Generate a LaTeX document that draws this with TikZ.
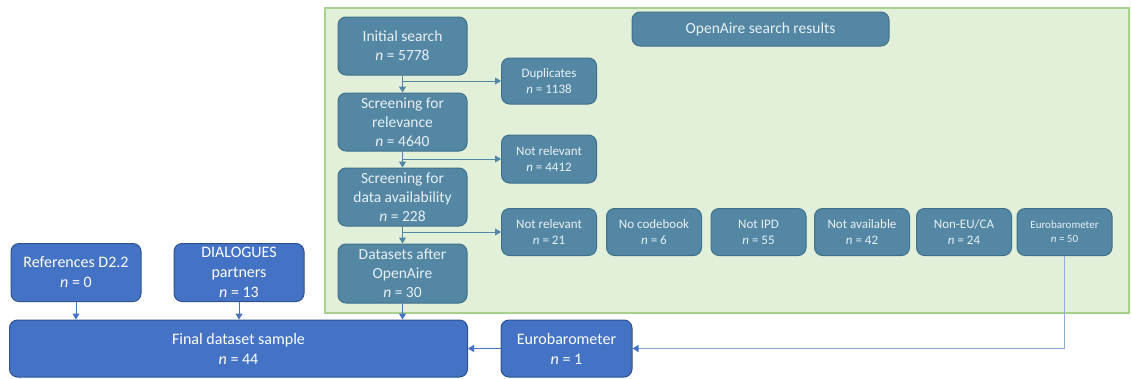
\documentclass[tikz,border=0pt]{standalone}
\usepackage{fontspec}
\setmainfont{Carlito}
\usetikzlibrary{arrows.meta}
\definecolor{tealfill}{RGB}{84,135,163}
\definecolor{tealdraw}{RGB}{65,112,140}
\definecolor{bluefill}{RGB}{68,114,196}
\definecolor{bluedraw}{RGB}{47,82,143}
\definecolor{greenfill}{RGB}{226,240,217}
\definecolor{greendraw}{RGB}{169,209,142}
\definecolor{tealtext}{RGB}{232,240,244}
\definecolor{paleline}{RGB}{143,170,220}
\tikzset{
  box/.style={rounded corners=8pt, line width=1pt, align=center, inner sep=0pt},
  tealbox/.style={box, fill=tealfill, draw=tealdraw, text=tealtext,
    minimum width=129pt, minimum height=58pt, font=\fontsize{15.5}{19}\selectfont},
  smallbox/.style={box, fill=tealfill, draw=tealdraw, text=tealtext,
    minimum width=95pt, minimum height=47pt, font=\fontsize{13}{16}\selectfont},
  bluebox/.style={box, fill=bluefill, draw=bluedraw, text=white,
    minimum width=130pt, minimum height=58pt, font=\fontsize{16}{20}\selectfont},
  flow/.style={line width=1pt, -{Triangle[length=6pt,width=7pt]}},
}
\begin{document}
\begin{tikzpicture}[x=1pt,y=-1pt]
  \useasboundingbox (0,0) rectangle (1131,378);
  % OpenAire area
  \draw[fill=greenfill, draw=greendraw, line width=1.2pt] (325,8) rectangle (1129,313);
  \node[tealbox, minimum width=257pt, minimum height=34pt] (title) at (760.5,29) {OpenAire search results};
  \node[tealbox] (init) at (402.5,46) {Initial search\\\textit{n} = 5778};
  \node[tealbox] (screlev) at (402.5,122) {Screening for\\relevance\\\textit{n} = 4640};
  \node[tealbox] (scravail) at (402.5,197) {Screening for\\data availability\\\textit{n} = 228};
  \node[tealbox, minimum height=59pt] (after) at (402.5,273.5) {Datasets after\\OpenAire\\\textit{n} = 30};
  \node[smallbox, minimum height=46pt] (dup) at (549,81) {Duplicates\\\textit{n} = 1138};
  \node[smallbox, minimum height=48pt] (notrelA) at (549,159) {Not relevant\\\textit{n} = 4412};
  \node[smallbox] (notrelB) at (549,232) {Not relevant\\\textit{n} = 21};
  \node[smallbox] (nocode) at (654,232) {No codebook\\\textit{n} = 6};
  \node[smallbox] (notipd) at (758.5,232) {Not IPD\\\textit{n} = 55};
  \node[smallbox] (notavail) at (862,232) {Not available\\\textit{n} = 42};
  \node[smallbox] (noneu) at (964,232) {Non-EU/CA\\\textit{n} = 24};
  \node[smallbox, font=\fontsize{11}{14}\selectfont] (eurosmall) at (1064.5,232) {Eurobarometer\\\textit{n} = 50};
  % other sources and result
  \node[bluebox] (refs) at (76,272.5) {References D2.2\\\textit{n} = 0};
  \node[bluebox] (dial) at (239,272.5) {DIALOGUES\\partners\\\textit{n} = 13};
  \node[bluebox, minimum width=458pt, minimum height=57pt] (final) at (238.5,348.5) {Final dataset sample\\\textit{n} = 44};
  \node[bluebox, minimum width=131pt, minimum height=57pt] (eurobig) at (566.5,348.5) {Eurobarometer\\\textit{n} = 1};
  % connectors
  \draw[flow, tealfill] (init) -- (screlev);
  \draw[flow, tealfill] (screlev) -- (scravail);
  \draw[flow, tealfill] (scravail) -- (after);
  \draw[flow, tealfill] (init.south |- dup.west) -- (dup.west);
  \draw[flow, tealfill] (screlev.south |- notrelA.west) -- (notrelA.west);
  \draw[flow, tealfill] (scravail.south |- notrelB.west) -- (notrelB.west);
  \draw[flow, bluefill] (refs) -- (refs.south |- final.north);
  \draw[flow, bluefill] (dial) -- (dial.south |- final.north);
  \draw[flow, bluefill] (after) -- (after.south |- final.north);
  \draw[flow, bluefill] (eurobig) -- (final);
  \draw[line width=1pt, paleline, -{Triangle[length=6pt,width=7pt,color=bluefill]}]
    (eurosmall.south) -- (eurosmall.south |- eurobig.east) -- (eurobig.east);
\end{tikzpicture}
\end{document}
